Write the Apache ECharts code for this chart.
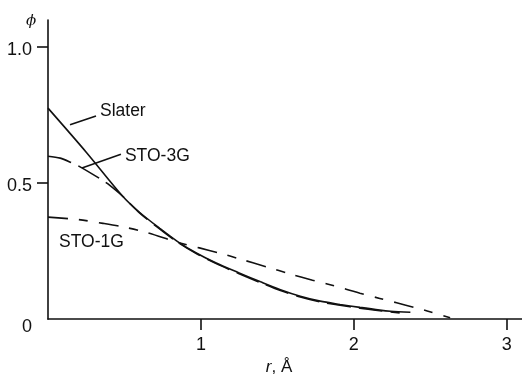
<!DOCTYPE html>
<html>
<head>
<meta charset="utf-8">
<script src="https://cdn.jsdelivr.net/npm/echarts@6/dist/echarts.min.js"></script>
<style>
html,body{margin:0;padding:0;background:#fff;}
#c{width:522px;height:381px;}
</style>
</head>
<body>
<div id="c"></div>
<script>
// ---- data ----
const slaterR   = [0, 0.25, 0.49, 0.60, 0.73, 0.85, 0.97, 1.10, 1.25, 1.39, 1.52, 1.65, 1.78, 1.91, 2.04, 2.17, 2.24, 2.37];
const slaterPhi = [0.776, 0.614, 0.451, 0.392, 0.334, 0.284, 0.243, 0.206, 0.170, 0.137, 0.108, 0.084, 0.066, 0.054, 0.043, 0.033, 0.029, 0.025];

const sto3gR   = [0, 0.08, 0.157, 0.21, 0.35, 0.39, 0.49, 0.60, 0.73, 0.85, 0.97, 1.10, 1.25, 1.39, 1.52, 1.65, 1.78, 1.91, 2.04, 2.17, 2.30];
const sto3gPhi = [0.599, 0.592, 0.574, 0.560, 0.513, 0.498, 0.451, 0.390, 0.332, 0.282, 0.241, 0.204, 0.167, 0.134, 0.105, 0.081, 0.063, 0.051, 0.040, 0.031, 0.023];

const sto1gR   = [0, 0.2, 0.36, 0.5, 0.65, 0.85, 0.99, 1.12, 1.25, 1.43, 1.59, 1.73, 1.82, 1.95, 2.04, 2.17, 2.28, 2.40, 2.48, 2.63];
const sto1gPhi = [0.375, 0.366, 0.352, 0.338, 0.318, 0.282, 0.262, 0.243, 0.222, 0.192, 0.165, 0.143, 0.130, 0.110, 0.095, 0.076, 0.060, 0.042, 0.030, 0.005];

const xTickValues = [1, 2, 3];
const yTickLabels = [0, 0.5, 1.0];
const yTickMarks  = [0.5, 1.0];

// annotation labels (text, anchor in data coords = left edge / vertical middle)
const labelTexts   = ['Slater', 'STO-3G', 'STO-1G'];
const labelAnchors = [[0.34, 0.765], [0.503, 0.600], [0.072, 0.283]];
// leader lines (data coords)
const leaderLines = [
  [[0.144, 0.715], [0.314, 0.747]],
  [[0.477, 0.606], [0.222, 0.556]]
];

const zip = (a, b) => a.map((v, i) => [v, b[i]]);
const INK = '#111';
const FONT = '"Liberation Sans", Arial, sans-serif';

const chart = echarts.init(document.getElementById('c'), null, {renderer: 'canvas'});
chart.setOption({
  backgroundColor: '#fff',
  animation: false,
  grid: {left: 48, right: 0, top: 20, bottom: 56, containLabel: false},
  xAxis: {
    type: 'value', min: 0, max: 3.1, interval: 1,
    name: '{i|r}{n|, Å}', nameLocation: 'middle', nameGap: 33,
    nameTextStyle: {
      padding: [0, 12, 0, 0],
      rich: {
        i: {fontFamily: FONT, fontSize: 17, fontStyle: 'italic', color: INK},
        n: {fontFamily: FONT, fontSize: 17, color: INK}
      }
    },
    axisLine: {lineStyle: {color: INK, width: 1.6}},
    axisTick: {show: true, inside: false, length: 11, customValues: xTickValues, lineStyle: {color: INK, width: 1.6}},
    axisLabel: {customValues: xTickValues, margin: 17, fontFamily: FONT, fontSize: 18, color: INK},
    splitLine: {show: false}
  },
  yAxis: {
    type: 'value', min: 0, max: 1.1, interval: 0.5,
    name: 'ϕ', nameLocation: 'end', nameGap: -9,
    nameTextStyle: {fontFamily: '"DejaVu Serif", serif', fontStyle: 'italic', fontSize: 15, color: INK, padding: [0, 34, 0, 0], verticalAlign: 'bottom'},
    axisLine: {lineStyle: {color: INK, width: 1.6}},
    axisTick: {show: true, inside: false, length: 11, customValues: yTickMarks, lineStyle: {color: INK, width: 1.6}},
    axisLabel: {
      customValues: yTickLabels, margin: 16, fontFamily: FONT, fontSize: 18, color: INK,
      formatter: v => (v === 0 ? '{z|0}' : '{t|' + v.toFixed(1) + '}'),
      rich: {
        z: {fontFamily: FONT, fontSize: 18, color: INK, padding: [15, 0, 0, 0]},
        t: {fontFamily: FONT, fontSize: 18, color: INK, padding: [6, 0, 0, 0]}
      }
    },
    splitLine: {show: false}
  },
  series: [
    {
      name: 'Slater', type: 'line', data: zip(slaterR, slaterPhi), showSymbol: false, smooth: 0.3,
      lineStyle: {color: INK, width: 1.6}, z: 3
    },
    {
      name: 'STO-3G', type: 'line', data: zip(sto3gR, sto3gPhi), showSymbol: false, smooth: 0.3,
      lineStyle: {color: INK, width: 1.6, type: [24, 8]}, z: 2
    },
    {
      name: 'STO-1G', type: 'line', data: zip(sto1gR, sto1gPhi), showSymbol: false, smooth: 0.3,
      lineStyle: {color: INK, width: 1.6, type: [20, 11, 9, 11]}, z: 2
    }
  ]
});

function drawAnnotations() {
  const g = [];
  labelTexts.forEach((t, i) => {
    const p = chart.convertToPixel({gridIndex: 0}, labelAnchors[i]);
    g.push({
      type: 'text', x: p[0], y: p[1], z: 10,
      style: {text: t, fill: INK, font: '17.5px ' + FONT, textAlign: 'left', textVerticalAlign: 'middle', verticalAlign: 'middle'}
    });
  });
  leaderLines.forEach(l => {
    const a = chart.convertToPixel({gridIndex: 0}, l[0]);
    const b = chart.convertToPixel({gridIndex: 0}, l[1]);
    g.push({
      type: 'line', z: 10,
      shape: {x1: a[0], y1: a[1], x2: b[0], y2: b[1]},
      style: {stroke: INK, lineWidth: 1.6}
    });
  });
  chart.setOption({graphic: g});
}
drawAnnotations();
</script>
</body>
</html>
